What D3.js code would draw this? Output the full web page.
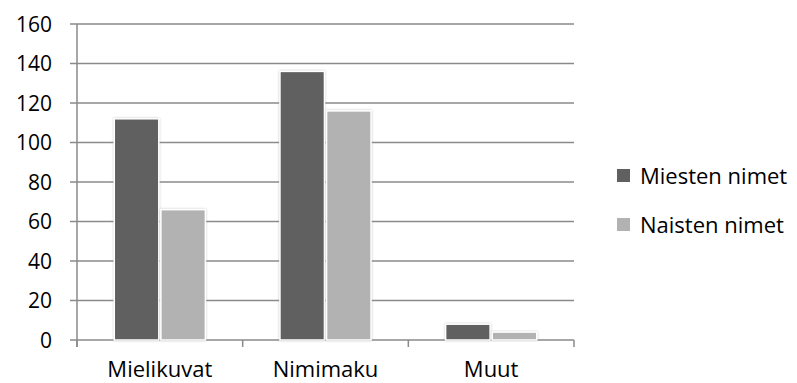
<!DOCTYPE html>
<html>
<head>
<meta charset="utf-8">
<script src="https://cdn.jsdelivr.net/npm/d3@7"></script>
<style>
  body { margin: 0; background: #fff; }
  text { font-family: "Open Sans", "Liberation Sans", sans-serif; fill: #000; }
</style>
</head>
<body>
<div id="chart"></div>
<script>
var width = 797;
var height = 383;

// data
var categories = ["Mielikuvat", "Nimimaku", "Muut"];
var seriesNames = ["Miesten nimet", "Naisten nimet"];
var miesten = [112, 136, 8];
var naisten = [66, 116, 4];
var yTicks = [0, 20, 40, 60, 80, 100, 120, 140, 160];
var colors = ["#606060", "#b2b2b2"];

var svg = d3.select("#chart")
            .append("svg")
            .attr("width", width)
            .attr("height", height);

// soft halo around the bars
var defs = svg.append("defs");
var f = defs.append("filter").attr("id", "halo")
            .attr("x", "-20%").attr("y", "-20%").attr("width", "140%").attr("height", "140%");
f.append("feDropShadow").attr("dx", 0).attr("dy", 0)
 .attr("stdDeviation", 1.2).attr("flood-color", "#999").attr("flood-opacity", 0.6);

var plotLeft = 77, plotRight = 574, plotTop = 24, plotBottom = 340;

var yScale = d3.scaleLinear().domain([0, 160]).range([plotBottom, plotTop]);
var xScale = d3.scaleBand().domain(categories).range([plotLeft, plotRight]).paddingInner(0).paddingOuter(0);
var xInner = d3.scaleBand().domain(seriesNames).range([0, xScale.bandwidth()]).paddingInner(0.045).paddingOuter(0.8);

// gridlines
svg.append("g")
   .selectAll("line")
   .data(yTicks)
   .enter()
   .append("line")
   .attr("x1", plotLeft - 7)
   .attr("x2", plotRight)
   .attr("y1", function(d) { return yScale(d); })
   .attr("y2", function(d) { return yScale(d); })
   .attr("stroke", "#8a8a8a")
   .attr("stroke-width", 1.5);

// y axis line
svg.append("line")
   .attr("x1", plotLeft).attr("x2", plotLeft)
   .attr("y1", plotTop).attr("y2", plotBottom + 7)
   .attr("stroke", "#8a8a8a").attr("stroke-width", 1.5);

// x axis ticks
var xTickPos = categories.map(function(c) { return xScale(c); }).concat([plotRight]);
svg.append("g")
   .selectAll("line")
   .data(xTickPos)
   .enter()
   .append("line")
   .attr("x1", function(d) { return d; })
   .attr("x2", function(d) { return d; })
   .attr("y1", plotBottom)
   .attr("y2", plotBottom + 7)
   .attr("stroke", "#8a8a8a").attr("stroke-width", 1.5);

// y tick labels
svg.append("g")
   .selectAll("text")
   .data(yTicks)
   .enter()
   .append("text")
   .attr("x", 52)
   .attr("y", function(d) { return yScale(d); })
   .attr("dy", "0.36em")
   .attr("text-anchor", "end")
   .style("font-size", "21px")
   .text(function(d) { return d; });

// x labels
svg.append("g")
   .selectAll("text")
   .data(categories)
   .enter()
   .append("text")
   .attr("x", function(d) { return xScale(d) + xScale.bandwidth() / 2; })
   .attr("y", 377)
   .attr("text-anchor", "middle")
   .style("font-size", "22px")
   .text(function(d) { return d; });

// bars
var rows = categories.map(function(c, i) {
  return { cat: c, values: [miesten[i], naisten[i]] };
});

var groups = svg.append("g")
   .selectAll("g")
   .data(rows)
   .enter()
   .append("g")
   .attr("transform", function(d) { return "translate(" + xScale(d.cat) + ",0)"; });

groups.selectAll("rect")
   .data(function(d) { return d.values.map(function(v, j) { return { name: seriesNames[j], v: v, j: j }; }); })
   .enter()
   .append("rect")
   .attr("x", function(d) { return xInner(d.name); })
   .attr("y", function(d) { return yScale(d.v); })
   .attr("width", xInner.bandwidth())
   .attr("height", function(d) { return plotBottom - yScale(d.v); })
   .attr("fill", function(d) { return colors[d.j]; })
   .attr("stroke", "#fff")
   .attr("stroke-width", 1.5)
   .attr("filter", "url(#halo)");

// legend
var legend = svg.append("g")
   .selectAll("g")
   .data(seriesNames)
   .enter()
   .append("g")
   .attr("transform", function(d, i) { return "translate(617," + (169 + i * 49) + ")"; });

legend.append("rect")
   .attr("width", 13)
   .attr("height", 13)
   .attr("fill", function(d, i) { return colors[i]; });

legend.append("text")
   .attr("x", 23)
   .attr("y", 7)
   .attr("dy", "0.36em")
   .style("font-size", "22px")
   .text(function(d) { return d; });
</script>
</body>
</html>
